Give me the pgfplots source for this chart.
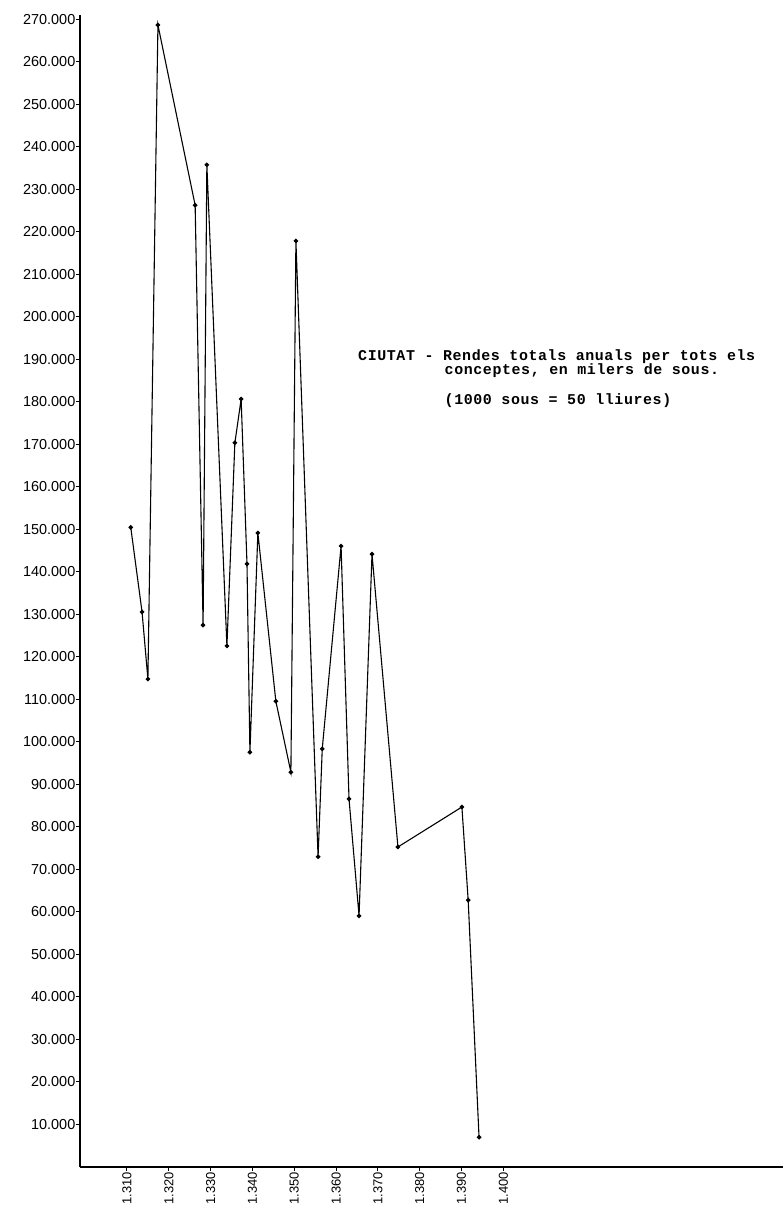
\documentclass[border=0pt]{standalone}
\usepackage{pgfplots}
\pgfplotsset{compat=1.18}
\usepackage{fontspec}
\setmainfont{Liberation Sans}
\newfontfamily\tw[LetterSpace=4]{Liberation Mono}
\pgfplotstableread{
year value
1310.9 150500
1313.6 130600
1315.0 114800
1317.4 268700
1326.3 226300
1328.2 127500
1329.1 235800
1333.9 122600
1335.8 170400
1337.3 180700
1338.7 141900
1339.4 97600
1341.3 149200
1345.6 109600
1349.2 92900
1350.4 217900
1355.7 73000
1356.7 98400
1361.2 146100
1363.1 86600
1365.5 59100
1368.6 144200
1374.8 75300
1390.1 84700
1391.6 62800
1394.2 7000
}\rendes
\begin{document}
\begin{tikzpicture}[x=1bp,y=1bp]
\path[use as bounding box] (-80,-42) rectangle (703,1167);
\begin{axis}[
  at={(0,0)}, anchor=south west,
  scale only axis,
  width=703bp, height=1151.75bp,
  xmin=1298.76, xmax=1466.9,
  ymin=0, ymax=271000,
  axis x line=bottom, axis y line=left,
  axis line style={-, line width=1.3bp, black},
  every outer x axis line/.append style={-},
  every outer y axis line/.append style={-},
  scaled y ticks=false, scaled x ticks=false,
  tick align=outside,
  major tick length=4bp,
  tick style={black, line width=1bp},
  xtick={1310,1320,1330,1340,1350,1360,1370,1380,1390,1400},
  xticklabels={1.310,1.320,1.330,1.340,1.350,1.360,1.370,1.380,1.390,1.400},
  ytick={10000,20000,30000,40000,50000,60000,70000,80000,90000,100000,110000,120000,130000,140000,150000,160000,170000,180000,190000,200000,210000,220000,230000,240000,250000,260000,270000},
  yticklabels={10.000,20.000,30.000,40.000,50.000,60.000,70.000,80.000,90.000,100.000,110.000,120.000,130.000,140.000,150.000,160.000,170.000,180.000,190.000,200.000,210.000,220.000,230.000,240.000,250.000,260.000,270.000},
  xticklabel style={rotate=90, anchor=east, inner sep=1bp, font=\fontsize{13}{13}\selectfont},
  yticklabel style={anchor=east, inner sep=0.5bp, font=\fontsize{14.5}{14.5}\selectfont},
  clip=false,
]
\addplot[black, line width=1.1bp, mark=*, mark size=1.7bp, mark options={solid, fill=black}] table[x=year, y=value] {\rendes};
\end{axis}
\node[anchor=base west, inner sep=0, font=\tw\bfseries\fontsize{15}{15}\selectfont] at (278,806) {CIUTAT - Rendes totals anuals per tots els};
\node[anchor=base west, inner sep=0, font=\tw\bfseries\fontsize{15}{15}\selectfont] at (364.5,792.5) {conceptes, en milers de sous.};
\node[anchor=base west, inner sep=0, font=\tw\bfseries\fontsize{15}{15}\selectfont] at (364.5,762) {(1000 sous = 50 lliures)};
\end{tikzpicture}
\end{document}
